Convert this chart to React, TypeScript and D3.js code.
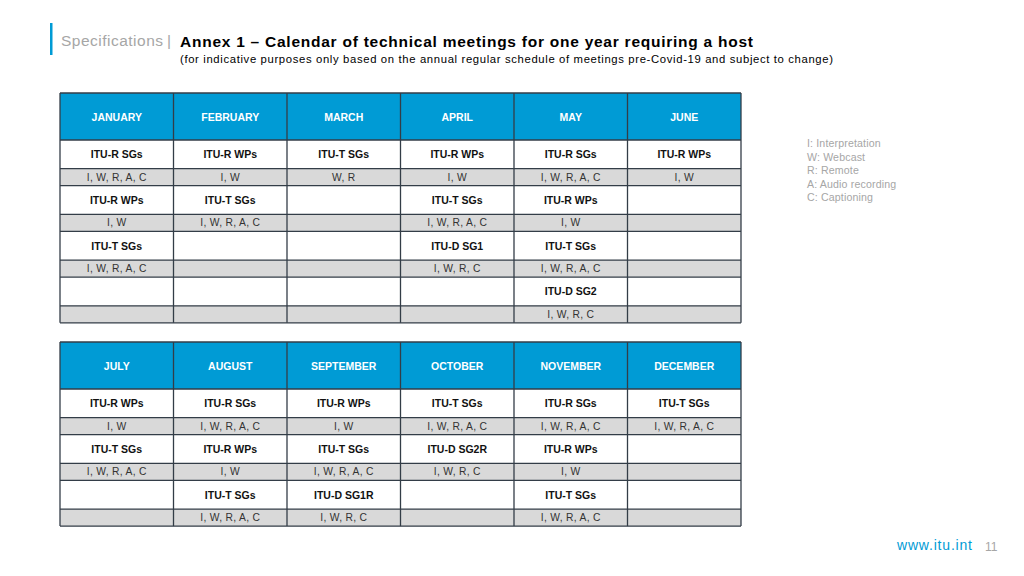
import React from "react";
import * as d3 from "d3";

const monthsH1 = ["JANUARY", "FEBRUARY", "MARCH", "APRIL", "MAY", "JUNE"];
const monthsH2 = ["JULY", "AUGUST", "SEPTEMBER", "OCTOBER", "NOVEMBER", "DECEMBER"];

// meetings per month: [name, services]
const meetingsH1: [string, string][][] = [
  [["ITU-R SGs", "I, W, R, A, C"], ["ITU-R WPs", "I, W"], ["ITU-T SGs", "I, W, R, A, C"]],
  [["ITU-R WPs", "I, W"], ["ITU-T SGs", "I, W, R, A, C"]],
  [["ITU-T SGs", "W, R"]],
  [["ITU-R WPs", "I, W"], ["ITU-T SGs", "I, W, R, A, C"], ["ITU-D SG1", "I, W, R, C"]],
  [["ITU-R SGs", "I, W, R, A, C"], ["ITU-R WPs", "I, W"], ["ITU-T SGs", "I, W, R, A, C"], ["ITU-D SG2", "I, W, R, C"]],
  [["ITU-R WPs", "I, W"]],
];
const meetingsH2: [string, string][][] = [
  [["ITU-R WPs", "I, W"], ["ITU-T SGs", "I, W, R, A, C"]],
  [["ITU-R SGs", "I, W, R, A, C"], ["ITU-R WPs", "I, W"], ["ITU-T SGs", "I, W, R, A, C"]],
  [["ITU-R WPs", "I, W"], ["ITU-T SGs", "I, W, R, A, C"], ["ITU-D SG1R", "I, W, R, C"]],
  [["ITU-T SGs", "I, W, R, A, C"], ["ITU-D SG2R", "I, W, R, C"]],
  [["ITU-R SGs", "I, W, R, A, C"], ["ITU-R WPs", "I, W"], ["ITU-T SGs", "I, W, R, A, C"]],
  [["ITU-T SGs", "I, W, R, A, C"]],
];
const slotsH1 = 4;
const slotsH2 = 3;

const legendItems = ["I: Interpretation", "W: Webcast", "R: Remote", "A: Audio recording", "C: Captioning"];

const FONT = "'Liberation Sans', Arial, Helvetica, sans-serif";
const BLUE = "#009bd5";
const GRAY = "#d9d9d9";
const LINE = "#333d47";

function Table({ months, meetings, slots, top }: { months: string[]; meetings: [string, string][][]; slots: number; top: number }) {
  const x = d3.scaleBand<string>().domain(months).range([60, 741]);
  const headerH = 47;
  const whiteH = 28.7;
  const grayH = 17;
  const slotY = d3.scaleLinear().domain([0, 1]).range([top + headerH, top + headerH + whiteH + grayH]);
  const bottom = slotY(slots);
  const cells: React.ReactNode[] = [];
  months.forEach((m, ci) => {
    const x0 = x(m)!;
    const w = x.bandwidth();
    cells.push(<rect key={`h${ci}`} x={x0} y={top} width={w} height={headerH} fill={BLUE} />);
    cells.push(
      <text key={`ht${ci}`} x={x0 + w / 2} y={top + headerH / 2 + 0.5} textAnchor="middle" dominantBaseline="central" fill="#fff" fontWeight="bold" fontSize={10.5} fontFamily={FONT}>
        {m}
      </text>
    );
    for (let s = 0; s < slots; s++) {
      const y0 = slotY(s);
      const mt = meetings[ci][s];
      cells.push(<rect key={`w${ci}-${s}`} x={x0} y={y0} width={w} height={whiteH} fill="#fff" />);
      cells.push(<rect key={`g${ci}-${s}`} x={x0} y={y0 + whiteH} width={w} height={grayH} fill={GRAY} />);
      if (mt) {
        cells.push(
          <text key={`n${ci}-${s}`} x={x0 + w / 2} y={y0 + whiteH / 2} textAnchor="middle" dominantBaseline="central" fill="#111" fontWeight="bold" fontSize={10.5} fontFamily={FONT}>
            {mt[0]}
          </text>
        );
        cells.push(
          <text key={`s${ci}-${s}`} x={x0 + w / 2} y={y0 + whiteH + grayH / 2} textAnchor="middle" dominantBaseline="central" fill="#333" fontSize={10.3} letterSpacing={0.3} fontFamily={FONT}>
            {mt[1]}
          </text>
        );
      }
    }
  });
  const lines: React.ReactNode[] = [];
  [...months.map((m) => x(m)!), 741].forEach((xv, i) => {
    lines.push(<line key={`v${i}`} x1={xv} x2={xv} y1={top} y2={bottom} stroke={LINE} strokeWidth={1.3} />);
  });
  const hs: number[] = [top, top + headerH];
  for (let s = 0; s < slots; s++) {
    hs.push(slotY(s) + whiteH);
    hs.push(slotY(s + 1));
  }
  hs.forEach((yv, i) => {
    lines.push(<line key={`hl${i}`} x1={60} x2={741} y1={yv} y2={yv} stroke={LINE} strokeWidth={1.3} />);
  });
  return (
    <g>
      {cells}
      {lines}
    </g>
  );
}

export default function App() {
  return (
    <svg width={1024} height={576} style={{ position: "absolute", left: 0, top: 0, background: "#fff" }}>
      <rect x={0} y={0} width={1024} height={576} fill="#fff" />
      <rect x={50} y={23} width={2.5} height={32} fill={BLUE} />
      <text x={61} y={46} fontSize={15.5} fill="#a6a6a6" fontFamily={FONT} textLength={102} lengthAdjust="spacing">
        Specifications
      </text>
      <text x={167} y={46} fontSize={15.5} fill="#a6a6a6" fontFamily={FONT}>
        |
      </text>
      <text x={180} y={47} fontSize={15.5} fontWeight="bold" fill="#000" fontFamily={FONT} textLength={573} lengthAdjust="spacing">
        Annex 1 – Calendar of technical meetings for one year requiring a host
      </text>
      <text x={180} y={63} fontSize={11.3} fill="#000" fontFamily={FONT} textLength={653} lengthAdjust="spacing">
        (for indicative purposes only based on the annual regular schedule of meetings pre-Covid-19 and subject to change)
      </text>
      <Table months={monthsH1} meetings={meetingsH1} slots={slotsH1} top={93} />
      <Table months={monthsH2} meetings={meetingsH2} slots={slotsH2} top={342} />
      {legendItems.map((t, i) => (
        <text key={t} x={807} y={147 + i * 13.5} fontSize={10.6} letterSpacing={0.15} fill="#a6a6a6" fontFamily={FONT}>
          {t}
        </text>
      ))}
      <text x={897} y={550} fontSize={14} fill={BLUE} fontFamily={FONT} textLength={75} lengthAdjust="spacing">
        www.itu.int
      </text>
      <text x={985} y={551} fontSize={12} fill="#a6a6a6" fontFamily={FONT}>
        11
      </text>
    </svg>
  );
}
